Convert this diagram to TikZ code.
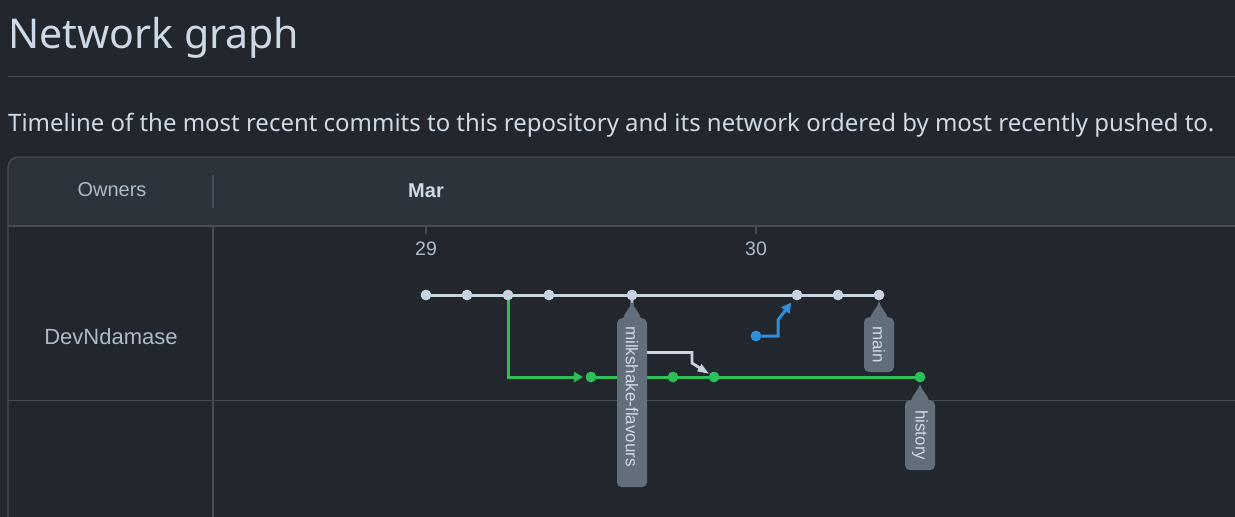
\documentclass[tikz,border=0pt]{standalone}
\usepackage{fontspec}
\setmainfont{Noto Sans}
\newfontfamily\arialf{Liberation Sans}
\usetikzlibrary{arrows.meta}
\definecolor{pagebg}{HTML}{22272E}
\definecolor{headbg}{HTML}{2D333B}
\definecolor{bordc}{HTML}{444C56}
\definecolor{txtc}{HTML}{ADBAC7}
\definecolor{brightc}{HTML}{CDD9E5}
\definecolor{commitc}{HTML}{C9D3DF}
\definecolor{greenc}{HTML}{2EBE5A}
\definecolor{bluec}{HTML}{2F8FDD}
\definecolor{lblc}{HTML}{636E7B}
\tikzset{
  commit/.style={circle,fill=#1,inner sep=0pt,minimum size=10.5pt},
  trunk/.style={draw=#1,line width=3pt},
  branchlbl/.style={rotate=-90,fill=lblc,rounded corners=5pt,text=brightc,
    font=\arialf\fontsize{17}{17}\selectfont,minimum height=30pt,inner xsep=9pt,anchor=west},
  hdrtxt/.style={font=\arialf\fontsize{20}{20}\selectfont,text=txtc},
  gridln/.style={draw=bordc,line width=1.2pt},
}
\begin{document}
\begin{tikzpicture}[x=1pt,y=-1pt]
\useasboundingbox[fill=pagebg] (0,0) rectangle (1235,517);
% title
\node[anchor=base west,inner sep=0pt,text=brightc] (title) at (8,48)
  {\resizebox{291pt}{!}{Network graph}};
\draw[draw=bordc,line width=1pt] (8,76.5) -- (1235,76.5);
\node[anchor=base west,inner sep=0pt,text=brightc] (sub) at (8,131)
  {\resizebox{1206pt}{!}{Timeline of the most recent commits to this repository and its network ordered by most recently pushed to.}};
% table
\fill[headbg] (8,225) -- (8,167) arc[start angle=180,end angle=270,radius=10] -- (1235,157) -- (1235,225) -- cycle;
\draw[gridln] (8,517) -- (8,167) arc[start angle=180,end angle=270,radius=10] -- (1235,157);
\draw[gridln,line width=2pt] (8,225.5) -- (1235,225.5);
\draw[gridln] (8,400.5) -- (1235,400.5);
\draw[gridln] (213,175) -- (213,208);
\draw[gridln] (213,226) -- (213,517);
\node[hdrtxt] (owners) at (112,190) {Owners};
\node[hdrtxt,text=brightc,font=\arialf\bfseries\fontsize{20}{20}\selectfont] (mar) at (426,191) {Mar};
\node[hdrtxt,font=\arialf\fontsize{22}{22}\selectfont] (owner1) at (111,337) {DevNdamase};
\draw[gridln] (426,226) -- (426,234);
\draw[gridln] (756,226) -- (756,234);
\node[hdrtxt,font=\arialf\fontsize{19.5}{19.5}\selectfont] (d29) at (426,249) {29};
\node[hdrtxt,font=\arialf\fontsize{19.5}{19.5}\selectfont] (d30) at (756,249) {30};
% commits
\foreach \n/\x in {c1/426,c2/467,c3/508,c4/549,c5/632,c6/797,c7/838,c8/879}
  \node[commit=commitc] (\n) at (\x,295) {};
\foreach \n/\x in {g1/591,g2/673,g3/714,g4/920}
  \node[commit=greenc] (\n) at (\x,377) {};
\node[commit=bluec] (b1) at (756,336) {};
\coordinate (m1) at (692,352.5);
\coordinate (m2) at (692,363);
\coordinate (k1) at (778,336);
\coordinate (k2) at (778,320);
% connectors
\draw[trunk=commitc] (c1) -- (c8);
\draw[trunk=greenc] (g1) -- (g4);
\draw[draw=greenc,line width=3pt,-{Triangle[length=9pt,width=10pt]},shorten >=2.5pt] (c3.center) |- (g1);
\draw[draw=commitc,line width=2.8pt,-{Triangle[length=12pt,width=7.5pt]}] (c5.center) |- (m1) -- (m2) -- (g3);
\draw[draw=bluec,line width=3pt,-{Triangle[length=10pt,width=10pt]},shorten >=4pt] (b1) -- (k1) -- (k2) -- (c6);
% redraw commits on top
\foreach \x in {426,467,508,549,632,797,838,879}
  \fill[commitc] (\x,295) circle[radius=5.25pt];
\foreach \x in {591,673,714,920}
  \fill[greenc] (\x,377) circle[radius=5.25pt];
\fill[bluec] (756,336) circle[radius=5.25pt];
% branch labels
\fill[lblc] (632,301) .. controls (633,308) and (640,312) .. (641,319) -- (623,319) .. controls (624,312) and (631,308) .. (632,301) -- cycle;
\node[branchlbl,text width=153pt,align=left,inner xsep=8pt] (lmilk) at (632,318) {milkshake-flavours};
\fill[lblc] (879,301) .. controls (880,308) and (887,312) .. (888,319) -- (870,319) .. controls (871,312) and (878,308) .. (879,301) -- cycle;
\node[branchlbl,minimum width=54pt] (lmain) at (879,317) {main};
\fill[lblc] (920,384) .. controls (921,390) and (928,395) .. (929,401) -- (911,401) .. controls (912,395) and (919,390) .. (920,384) -- cycle;
\node[branchlbl,minimum width=70pt] (lhist) at (920,400) {history};
\end{tikzpicture}
\end{document}
